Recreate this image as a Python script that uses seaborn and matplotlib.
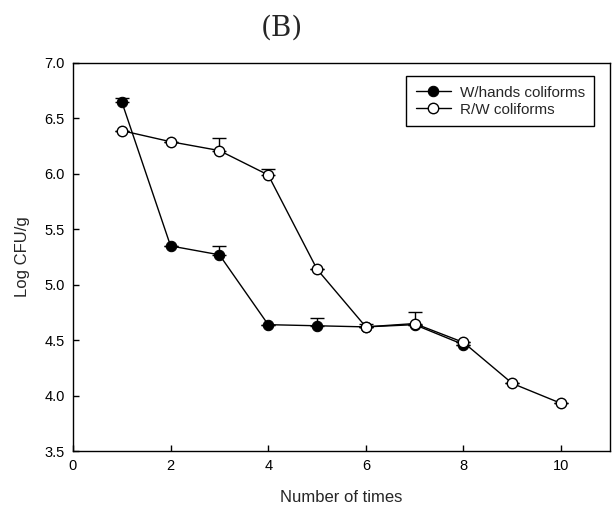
import matplotlib
matplotlib.use("Agg")
import matplotlib.pyplot as plt
import pandas as pd
import seaborn as sns
import numpy as np

# data
times_w = [1, 2, 3, 4, 5, 6, 7, 8]
whands = [6.65, 5.35, 5.27, 4.64, 4.63, 4.62, 4.64, 4.46]
whands_err = [0.03, 0.0, 0.08, 0.0, 0.07, 0.0, 0.0, 0.0]

times_rw = [1, 2, 3, 4, 5, 6, 7, 8, 9, 10]
rw = [6.39, 6.29, 6.21, 5.99, 5.14, 4.62, 4.65, 4.48, 4.11, 3.93]
rw_err = [0.0, 0.0, 0.11, 0.05, 0.0, 0.03, 0.10, 0.0, 0.0, 0.0]

sns.set_theme(style="ticks")
plt.rcParams['font.family'] = ['Liberation Sans', 'DejaVu Sans']

fig = plt.figure(figsize=(6.13, 5.12), dpi=100)
ax = fig.add_axes([0.119, 0.119, 0.876, 0.758])

# upward-only error bars, drawn first so markers sit on top
ax.errorbar(times_w, whands, yerr=[np.zeros(len(whands)), whands_err],
            fmt='none', ecolor='black', elinewidth=1, capsize=5, capthick=1, zorder=2)
ax.errorbar(times_rw, rw, yerr=[np.zeros(len(rw)), rw_err],
            fmt='none', ecolor='black', elinewidth=1, capsize=5, capthick=1, zorder=2)

df_w = pd.DataFrame({'x': times_w, 'y': whands})
df_rw = pd.DataFrame({'x': times_rw, 'y': rw})

sns.lineplot(data=df_w, x='x', y='y', ax=ax, color='black', linewidth=1,
             marker='o', markersize=7.5, markerfacecolor='black', markeredgecolor='black',
             label='W/hands coliforms', zorder=3)
sns.lineplot(data=df_rw, x='x', y='y', ax=ax, color='black', linewidth=1,
             marker='o', markersize=7.5, markerfacecolor='white', markeredgecolor='black',
             markeredgewidth=1, label='R/W coliforms', zorder=4)

ax.set_xlim(0, 11)
ax.set_ylim(3.5, 7.0)
ax.set_xticks([0, 2, 4, 6, 8, 10])
ax.set_yticks(np.arange(3.5, 7.01, 0.5))
ax.yaxis.set_major_formatter(matplotlib.ticker.FormatStrFormatter('%.1f'))
ax.tick_params(direction='in', length=4, width=1, labelsize=10.5, colors='black', pad=6)
for s in ax.spines.values():
    s.set_visible(True)
    s.set_color('black')
    s.set_linewidth(1)

ax.set_xlabel('Number of times', fontsize=12, labelpad=12)
ax.set_ylabel('Log CFU/g', fontsize=12, labelpad=10)

leg = ax.legend(loc='upper right', bbox_to_anchor=(0.985, 0.985), fontsize=11,
                frameon=True, fancybox=False, edgecolor='black', framealpha=1,
                handlelength=2.3, handletextpad=0.6, borderpad=0.6, labelspacing=0.2)
leg.get_frame().set_linewidth(1)

fig.text(0.46, 0.945, '(B)', family='DejaVu Serif', fontsize=20, ha='center', va='center')

fig.savefig('out.png', dpi=100)
